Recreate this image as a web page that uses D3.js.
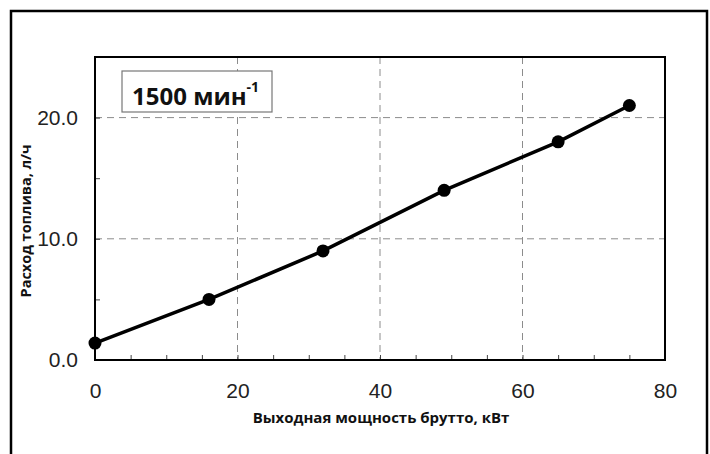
<!DOCTYPE html>
<html>
<head>
<meta charset="utf-8">
<script src="https://cdn.jsdelivr.net/npm/d3@7"></script>
<style>
  body { margin: 0; background: #fff; }
  svg { display: block; }
</style>
</head>
<body>
<div id="chart"></div>
<script>
var W = 710, H = 454;
var margin = { top: 57, right: 45, bottom: 94, left: 95 };
var width = 665 - margin.left;
var height = 360 - margin.top;

// data
var powerKw = [0, 16, 32, 49, 65, 75];
var fuelLh = [1.4, 5.0, 9.0, 14.0, 18.0, 21.0];
var xTicks = [0, 20, 40, 60, 80];
var yTicks = [0, 10, 20];
var xTitle = "Выходная мощность брутто, кВт";
var yTitle = "Расход топлива, л/ч";
var speedLabel = "1500 мин";

var tickFont = "'Liberation Sans', Arial, sans-serif";
var titleFont = "'Open Sans', sans-serif";

var svg = d3.select("#chart").append("svg")
  .attr("width", W).attr("height", H);

// outer frame (bottom edge runs off the picture)
svg.append("rect")
  .attr("x", 11).attr("y", 11)
  .attr("width", 696).attr("height", 460)
  .attr("fill", "none").attr("stroke", "#000").attr("stroke-width", 2.5);

var x = d3.scaleLinear().domain([0, 80]).range([0, width]);
var y = d3.scaleLinear().domain([0, 25]).range([height, 0]);

var g = svg.append("g")
  .attr("transform", "translate(" + margin.left + "," + margin.top + ")");

// grid
g.selectAll(".vgrid").data(xTicks.filter(d => d > 0 && d < 80)).enter()
  .append("line")
  .attr("x1", d => x(d)).attr("x2", d => x(d))
  .attr("y1", 0).attr("y2", height)
  .attr("stroke", "#8c8c8c").attr("stroke-width", 1)
  .attr("stroke-dasharray", "7,5");

g.selectAll(".hgrid").data(yTicks.filter(d => d > 0)).enter()
  .append("line")
  .attr("x1", 0).attr("x2", width)
  .attr("y1", d => y(d)).attr("y2", d => y(d))
  .attr("stroke", "#8c8c8c").attr("stroke-width", 1)
  .attr("stroke-dasharray", "7,5");

// minor ticks, inward
g.append("g")
  .attr("transform", "translate(0," + height + ")")
  .call(d3.axisTop(x).tickValues(d3.range(5, 80, 5)).tickSize(5).tickFormat(""))
  .call(a => a.select(".domain").remove())
  .call(a => a.selectAll("line").attr("stroke", "#444"));

g.append("g")
  .call(d3.axisRight(y).tickValues([5, 10, 15, 20]).tickSize(5).tickFormat(""))
  .call(a => a.select(".domain").remove())
  .call(a => a.selectAll("line").attr("stroke", "#444"));

// tick labels
g.append("g")
  .attr("transform", "translate(0," + height + ")")
  .call(d3.axisBottom(x).tickValues(xTicks).tickSize(0).tickPadding(23).tickFormat(d3.format("d")))
  .call(a => a.select(".domain").remove())
  .call(a => a.selectAll("text")
    .style("font-family", tickFont)
    .style("font-size", "21px").attr("fill", "#222"));

g.append("g")
  .call(d3.axisLeft(y).tickValues(yTicks).tickSize(0).tickPadding(17).tickFormat(d3.format(".1f")))
  .call(a => a.select(".domain").remove())
  .call(a => a.selectAll("text")
    .style("font-family", tickFont)
    .style("font-size", "21px").attr("fill", "#222"));

// plot border
g.append("rect")
  .attr("width", width).attr("height", height)
  .attr("fill", "none").attr("stroke", "#000").attr("stroke-width", 2);

// series
var pts = powerKw.map((p, i) => [p, fuelLh[i]]);
var line = d3.line().x(d => x(d[0])).y(d => y(d[1]));

g.append("path").datum(pts)
  .attr("d", line)
  .attr("fill", "none").attr("stroke", "#000").attr("stroke-width", 3.5);

g.selectAll(".pt").data(pts).enter()
  .append("circle")
  .attr("cx", d => x(d[0])).attr("cy", d => y(d[1]))
  .attr("r", 6.5).attr("fill", "#000");

// speed label box
var box = svg.append("g");
box.append("rect")
  .attr("x", 122).attr("y", 71).attr("width", 150).attr("height", 41)
  .attr("fill", "#fff").attr("stroke", "#777").attr("stroke-width", 1.2);
var lbl = box.append("text")
  .attr("x", 132).attr("y", 105)
  .style("font-family", titleFont)
  .style("font-weight", "bold").style("font-size", "24px").attr("fill", "#111")
  .text(speedLabel);
lbl.append("tspan").attr("dy", -13).style("font-size", "14px").text("-1");

// axis titles
svg.append("text")
  .attr("x", 381).attr("y", 423)
  .attr("text-anchor", "middle")
  .style("font-family", titleFont)
  .style("font-weight", "bold").style("font-size", "15px").attr("fill", "#111")
  .text(xTitle);

svg.append("text")
  .attr("transform", "translate(31,221) rotate(-90)")
  .attr("text-anchor", "middle")
  .style("font-family", titleFont)
  .style("font-weight", "bold").style("font-size", "14.5px").attr("fill", "#111")
  .text(yTitle);
</script>
</body>
</html>
